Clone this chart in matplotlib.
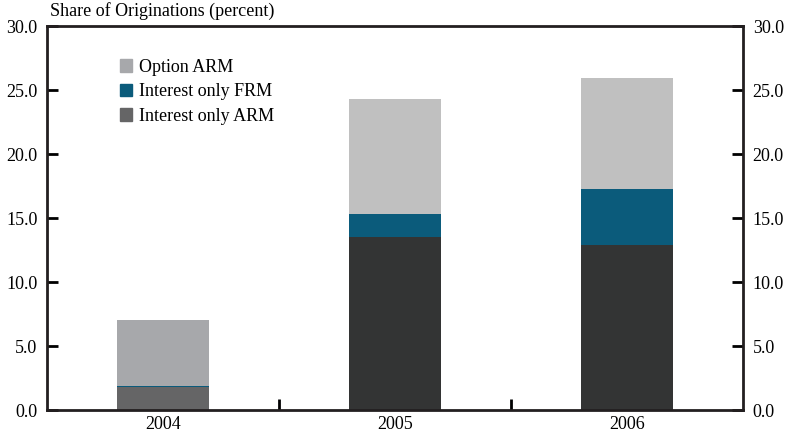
# Stacked shares of non-traditional mortgage originations, 2004-2006
import numpy as np
import matplotlib.pyplot as plt
from matplotlib.patches import Patch

years = ["2004", "2005", "2006"]
io_arm = [1.8, 13.5, 12.9]
io_frm = [0.1, 1.8, 4.4]
option_arm = [5.1, 9.0, 8.6]

# first year is drawn in lighter shades in the original
option_colors = ["#a7a8ab", "#c0c0c0", "#c0c0c0"]
frm_colors = ["#0b5b7b", "#0b5b7b", "#0b5b7b"]
io_colors = ["#656566", "#333434", "#333434"]

plt.rcParams["font.family"] = ["Liberation Serif", "DejaVu Serif"]
FS = 13

def main():
    fig = plt.figure(figsize=(7.9, 4.38), dpi=100)
    ax = fig.add_axes([0.0595, 0.0639, 0.881, 0.8767])

    x = np.arange(len(years)) + 0.5
    w = 0.4
    io_arm_a = np.array(io_arm)
    io_frm_a = np.array(io_frm)
    ax.bar(x, io_arm, w, color=io_colors, linewidth=0)
    ax.bar(x, io_frm, w, bottom=io_arm_a, color=frm_colors, linewidth=0)
    ax.bar(x, option_arm, w, bottom=io_arm_a + io_frm_a, color=option_colors, linewidth=0)

    ax.set_xlim(0, 3)
    ax.set_ylim(0, 30)
    ax.set_yticks(np.arange(0, 31, 5))
    ax.set_yticklabels([f"{v:.1f}" for v in np.arange(0, 31, 5)])
    ax.set_xticks([1, 2])
    ax.set_xticklabels([])
    ax.set_xticks(x, minor=True)
    ax.set_xticklabels(years, minor=True)
    ax.tick_params(axis="x", which="minor", length=0, pad=4, labelsize=FS)
    ax.tick_params(axis="x", which="major", direction="in", length=8, width=2)
    ax.tick_params(axis="y", direction="in", length=8, width=2, labelsize=FS,
                   right=True, labelright=True, pad=7)
    for s in ax.spines.values():
        s.set_linewidth(2)
        s.set_color("#231f20")

    handles = [Patch(color="#a7a8ab", label="Option ARM"),
               Patch(color="#0b5b7b", label="Interest only FRM"),
               Patch(color="#656566", label="Interest only ARM")]
    ax.legend(handles=handles, loc="upper left", bbox_to_anchor=(0.094, 0.934),
              frameon=False, fontsize=FS, handlelength=0.7, handleheight=0.7,
              handletextpad=0.35, labelspacing=0.42, borderaxespad=0)

    fig.text(0.063, 0.955, "Share of Originations (percent)", fontsize=FS,
             va="bottom", ha="left")

    plt.savefig("out.png", dpi=100)
    plt.close()

if __name__ == "__main__":
    main()
